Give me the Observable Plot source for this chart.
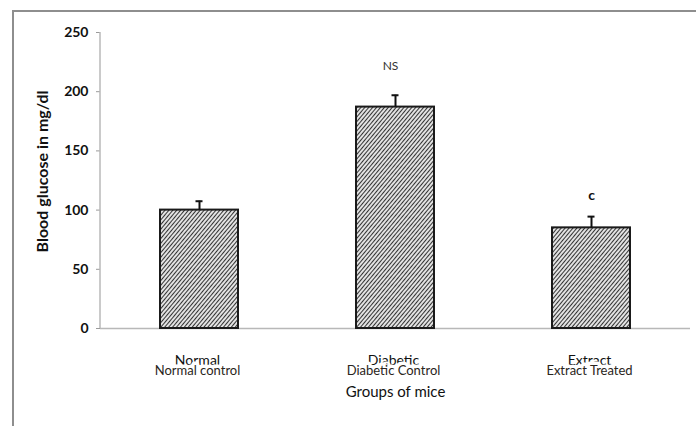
<!DOCTYPE html>
<html>
<head>
<meta charset="utf-8">
<script src="https://cdn.jsdelivr.net/npm/d3@7"></script>
<script src="https://cdn.jsdelivr.net/npm/@observablehq/plot@0.6"></script>
<style>
  html, body { margin: 0; padding: 0; background: #fff; }
  #wrap { position: relative; width: 696px; height: 426px; overflow: hidden; }
  #border { position: absolute; left: 12px; top: 10px; right: -4px; bottom: -4px;
            border-top: 2px solid #8e8e8e; border-left: 2px solid #8e8e8e; pointer-events: none; }
</style>
</head>
<body>
<div id="wrap"><div id="border"></div></div>
<script>
// ---- data ----
const groups = ["Normal control", "Diabetic Control", "Extract Treated"];
const shortLabels = ["Normal", "Diabetic", "Extract"];
const glucose = [100, 187, 85];
const sem = [7.5, 10, 9.5];
const significance = ["", "NS", "c"];
const yTicks = [0, 50, 100, 150, 200, 250];
const yTitle = "Blood glucose in mg/dl";
const xTitle = "Groups of mice";

const data = groups.map((g, i) => ({
  group: g, short: shortLabels[i], value: glucose[i], sem: sem[i], sig: significance[i]
}));

const font = "Lato, 'Open Sans', 'Liberation Sans', sans-serif";

const yAxisLine = (index, scales, values, dims) => {
  const line = document.createElementNS("http://www.w3.org/2000/svg", "line");
  line.setAttribute("x1", dims.marginLeft);
  line.setAttribute("x2", dims.marginLeft);
  line.setAttribute("y1", scales.y(yTicks[0]));
  line.setAttribute("y2", scales.y(yTicks[yTicks.length - 1]));
  line.setAttribute("stroke", "#b8b8b8");
  line.setAttribute("stroke-width", 1.5);
  return line;
};

const svg = Plot.plot({
  width: 696,
  height: 426,
  marginLeft: 100,
  marginRight: 6,
  marginTop: 32,
  marginBottom: 98,
  style: { fontFamily: font, background: "transparent", overflow: "visible" },
  x: { domain: groups, paddingInner: 0.6, paddingOuter: 0.3, axis: null },
  y: { domain: [0, 250], axis: null },
  marks: [
    Plot.axisY(yTicks, { tickSize: 4, tickPadding: 8, stroke: "#9a9a9a", fill: "#111",
                         fontSize: 14, fontWeight: "bold", label: null }),
    yAxisLine,
    Plot.ruleY([0], { stroke: "#b8b8b8", strokeWidth: 1.5 }),
    Plot.barY(data, { x: "group", y: "value", fill: "url(#hatch)", stroke: "#1a1a1a", strokeWidth: 2 }),
    Plot.ruleX(data, { x: "group", y1: "value", y2: d => d.value + d.sem, stroke: "#111", strokeWidth: 2 }),
    Plot.tickY(data, { x: "group", y: d => d.value + d.sem, stroke: "#111", strokeWidth: 2, insetLeft: 35.5, insetRight: 35.5 }),
    Plot.text(data.filter(d => d.sig === "NS"), { x: "group", y: d => d.value + d.sem, text: "sig",
      dy: -29, dx: -5, fontSize: 12, fill: "#333" }),
    Plot.text(data.filter(d => d.sig === "c"), { x: "group", y: d => d.value + d.sem, text: "sig",
      dy: -21, fontSize: 14, fontWeight: "bold", fill: "#111" }),
    // first (cut) line of the category labels
    Plot.text(data, { x: "group", text: "short", frameAnchor: "bottom", dy: 36, dx: -2, fontSize: 14, fill: "#111" }),
    // category labels with white halo masking the lower part of the line above
    Plot.text(data, { x: "group", text: "group", frameAnchor: "bottom", dy: 46, dx: -2, fontSize: 13,
      fill: "#2a2520", stroke: "white", strokeWidth: 7 }),
    Plot.text([xTitle], { frameAnchor: "bottom", dy: 68, fontSize: 15, fill: "#111" }),
    Plot.text([yTitle], { frameAnchor: "left", textAnchor: "middle", dx: -58, dy: -9, rotate: -90, fontSize: 16,
      fontWeight: "bold", fill: "#111" })
  ]
});

const defs = d3.select(svg).insert("defs", ":first-child");
const pat = defs.append("pattern")
  .attr("id", "hatch")
  .attr("patternUnits", "userSpaceOnUse")
  .attr("width", 3).attr("height", 3)
  .attr("patternTransform", "rotate(40)");
pat.append("rect").attr("width", 3).attr("height", 3).attr("fill", "#e2e2e2");
pat.append("line").attr("x1", 0.5).attr("x2", 0.5).attr("y1", 0).attr("y2", 3)
  .attr("stroke", "#333").attr("stroke-width", 1);

svg.style.position = "absolute";
svg.style.left = "0px";
svg.style.top = "0px";
document.getElementById("wrap").prepend(svg);
</script>
</body>
</html>
